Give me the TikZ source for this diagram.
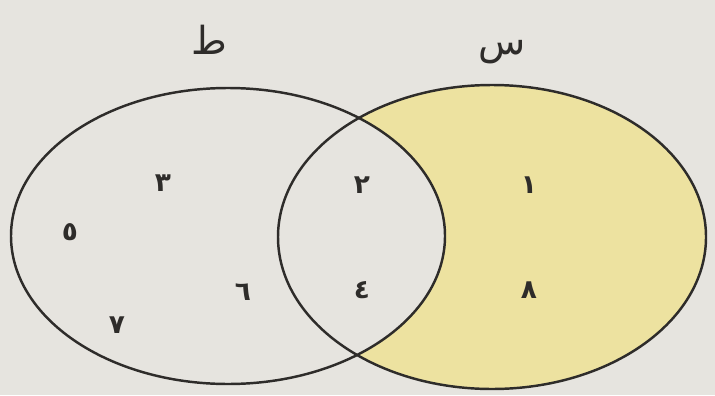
\documentclass[tikz,border=0pt]{standalone}
\usepackage{fontspec}
\usepackage{xcolor}
\newfontfamily\arabicfont[Script=Arabic]{DejaVu Sans}
\TeXXeTstate=1
\definecolor{paper}{HTML}{E6E4DF}
\definecolor{moon}{HTML}{EDE2A0}
\definecolor{ink}{HTML}{2E2C2A}
\tikzset{
  num/.style={font=\arabicfont\bfseries\fontsize{15}{15}\selectfont, text=ink},
  setname/.style={font=\arabicfont\fontsize{22}{22}\selectfont, text=ink}
}
\begin{document}
\begin{tikzpicture}[x=0.02cm,y=-0.02cm]
          \fill[paper] (0,0) rectangle (715,395);
          \useasboundingbox (0,0) rectangle (715,395);
          % yellow part: right set without the left one
          \fill[moon] (492,237) ellipse (214 and 152);
          \begin{scope}
            \clip (492,237) ellipse (214 and 152);
            \fill[paper] (228,236) ellipse (217 and 148);
          \end{scope}
          \draw[ink, line width=1.4pt] (228,236) ellipse (217 and 148);
          \draw[ink, line width=1.4pt] (492,237) ellipse (214 and 152);
          \node[setname] (tA) at (209,40) {\beginR ط\endR};
          \node[setname] (tB) at (502,52) {\beginR س\endR};
          \node[num] (n3) at (163,183) {٣}; \node[num] (n5) at (70,232) {٥};
          \node[num] (n6) at (243,292) {٦}; \node[num] (n7) at (117,325) {٧};
          \node[num] (n2) at (362,185) {٢}; \node[num] (n4) at (362,290) {٤};
          \node[num] (n1) at (529,185) {١}; \node[num] (n8) at (529,290) {٨};
        \end{tikzpicture}
\end{document}
